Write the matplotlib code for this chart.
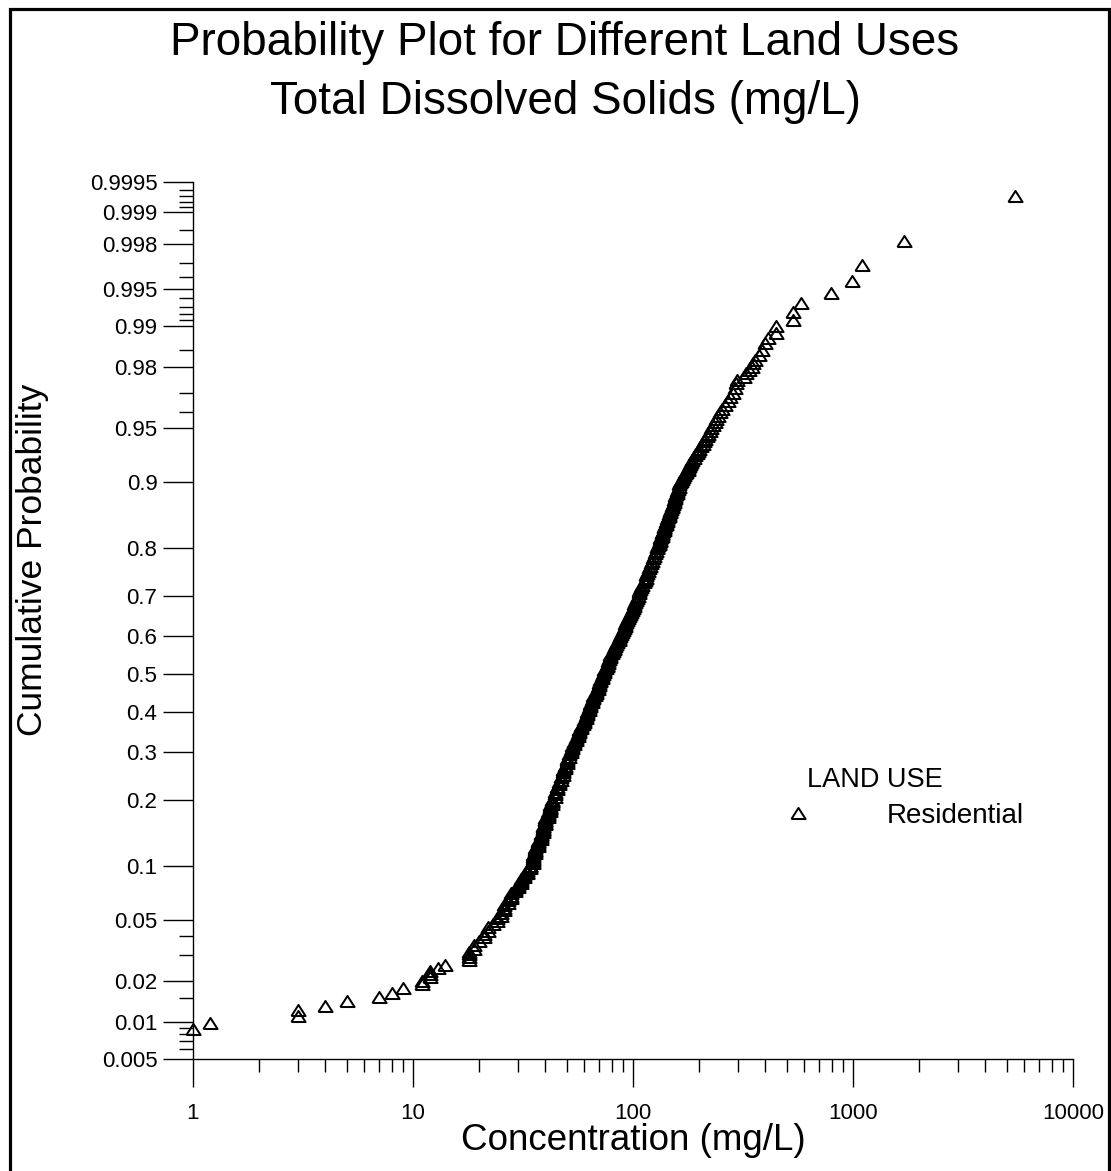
import math
import numpy as np
import matplotlib
matplotlib.use("Agg")
import matplotlib.pyplot as plt
from matplotlib.patches import Rectangle
from matplotlib.lines import Line2D
from matplotlib.ticker import FixedLocator, FixedFormatter, NullFormatter

plt.rcParams['font.family'] = ['Liberation Sans', 'DejaVu Sans']

# ---------------- data ----------------
# lower tail: individual points
conc_low = [1, 1.2, 3, 3, 4, 5, 7, 8, 9, 11, 11, 12, 12, 12, 13, 14, 18, 18, 18, 18]
prob_low = [0.0087, 0.0098, 0.0110, 0.0122, 0.0132, 0.0144, 0.0154, 0.0165, 0.0179,
            0.0189, 0.0200, 0.0212, 0.0224, 0.0235, 0.0247, 0.0259, 0.0279, 0.0291,
            0.0303, 0.0315]

# dense body of the curve
prob_a = [0.033, 0.035, 0.037, 0.039, 0.041, 0.043, 0.045, 0.047, 0.049, 0.051,
          0.053, 0.055, 0.057, 0.059, 0.061, 0.063, 0.065, 0.067, 0.069, 0.071,
          0.073, 0.075, 0.077, 0.079, 0.081, 0.083, 0.085, 0.087, 0.089, 0.091,
          0.093, 0.095, 0.097, 0.099]
conc_a = [19, 19, 20, 21, 21, 22, 22, 23, 24, 24,
          25, 25, 26, 26, 26, 27, 27, 28, 28, 28,
          29, 29, 30, 30, 31, 31, 31, 32, 32, 33,
          33, 33, 34, 34]

prob_b = [0.1000, 0.1025, 0.1050, 0.1075, 0.1100, 0.1125, 0.1150, 0.1175, 0.1200, 0.1225,
          0.1250, 0.1275, 0.1300, 0.1325, 0.1350, 0.1375, 0.1400, 0.1425, 0.1450, 0.1475,
          0.1500, 0.1525, 0.1550, 0.1575, 0.1600, 0.1625, 0.1650, 0.1675, 0.1700, 0.1725,
          0.1750, 0.1775, 0.1800, 0.1825, 0.1850, 0.1875, 0.1900, 0.1925, 0.1950, 0.1975]
conc_b = [34, 35, 35, 35, 35, 35, 36, 36, 36, 36,
          37, 37, 37, 37, 38, 38, 38, 38, 39, 39,
          39, 39, 39, 40, 40, 40, 40, 40, 41, 41,
          41, 41, 42, 42, 42, 42, 42, 43, 43, 43]

prob_c = [0.200, 0.205, 0.210, 0.215, 0.220, 0.225, 0.230, 0.235, 0.240, 0.245,
          0.250, 0.255, 0.260, 0.265, 0.270, 0.275, 0.280, 0.285, 0.290, 0.295,
          0.300, 0.305, 0.310, 0.315, 0.320, 0.325, 0.330, 0.335, 0.340, 0.345,
          0.350, 0.355, 0.360, 0.365, 0.370, 0.375, 0.380, 0.385, 0.390, 0.395,
          0.400, 0.405, 0.410, 0.415, 0.420, 0.425, 0.430, 0.435, 0.440, 0.445,
          0.450, 0.455, 0.460, 0.465, 0.470, 0.475, 0.480, 0.485, 0.490, 0.495,
          0.500, 0.505, 0.510, 0.515, 0.520, 0.525, 0.530, 0.535, 0.540, 0.545,
          0.550, 0.555, 0.560, 0.565, 0.570, 0.575, 0.580, 0.585, 0.590, 0.595,
          0.600, 0.605, 0.610, 0.615, 0.620, 0.625, 0.630, 0.635, 0.640, 0.645,
          0.650, 0.655, 0.660, 0.665, 0.670, 0.675, 0.680, 0.685, 0.690, 0.695,
          0.700, 0.705, 0.710, 0.715, 0.720, 0.725, 0.730, 0.735, 0.740, 0.745,
          0.750, 0.755, 0.760, 0.765, 0.770, 0.775, 0.780, 0.785, 0.790, 0.795]
conc_c = [43, 44, 44, 44, 45, 45, 46, 46, 47, 47,
          48, 48, 48, 49, 49, 50, 50, 50, 51, 51,
          52, 52, 53, 53, 54, 54, 55, 55, 56, 56,
          57, 57, 58, 58, 59, 60, 60, 61, 61, 62,
          62, 63, 63, 64, 64, 65, 65, 66, 66, 67,
          68, 68, 69, 69, 70, 70, 71, 71, 72, 72,
          73, 74, 74, 75, 76, 76, 77, 77, 78, 79,
          79, 80, 81, 82, 82, 83, 84, 85, 86, 86,
          87, 88, 89, 90, 91, 92, 92, 93, 94, 95,
          96, 97, 98, 99, 100, 101, 101, 102, 103, 104,
          105, 106, 107, 108, 109, 110, 112, 113, 114, 115,
          116, 117, 118, 120, 121, 122, 123, 125, 126, 127]

prob_d = [0.8000, 0.8025, 0.8050, 0.8075, 0.8100, 0.8125, 0.8150, 0.8175, 0.8200, 0.8225,
          0.8250, 0.8275, 0.8300, 0.8325, 0.8350, 0.8375, 0.8400, 0.8425, 0.8450, 0.8475,
          0.8500, 0.8525, 0.8550, 0.8575, 0.8600, 0.8625, 0.8650, 0.8675, 0.8700, 0.8725,
          0.8750, 0.8775, 0.8800, 0.8825, 0.8850, 0.8875, 0.8900, 0.8925, 0.8950, 0.8975]
conc_d = [128, 129, 130, 131, 131, 132, 133, 133, 134, 135,
          136, 136, 137, 138, 138, 139, 140, 141, 141, 142,
          143, 144, 145, 146, 147, 148, 149, 150, 151, 152,
          153, 154, 155, 156, 157, 158, 159, 160, 161, 162]

prob_e = [0.900, 0.902, 0.904, 0.906, 0.908, 0.910, 0.912, 0.914, 0.916, 0.918,
          0.920, 0.922, 0.924, 0.926, 0.928, 0.930, 0.932, 0.934, 0.936, 0.938,
          0.940, 0.942, 0.944, 0.946, 0.948, 0.950, 0.952, 0.954, 0.956, 0.958,
          0.960, 0.962, 0.964, 0.966, 0.968, 0.970, 0.972, 0.974]
conc_e = [163, 165, 167, 169, 171, 173, 175, 177, 178, 180,
          182, 184, 186, 189, 192, 195, 198, 200, 204, 207,
          210, 213, 216, 220, 223, 226, 230, 235, 239, 244,
          249, 255, 262, 270, 277, 285, 290, 294]

# upper tail: individual points
conc_high = [298, 320, 328, 336, 346, 352, 358, 372, 385, 398, 412, 447, 447, 535, 535,
             580, 792, 993, 1102, 1706, 5450]
prob_high = [0.9755, 0.9766, 0.9778, 0.9790, 0.9801, 0.9811, 0.9822, 0.9836, 0.9849,
             0.9865, 0.9876, 0.9888, 0.9900, 0.9911, 0.9923, 0.9934, 0.9946, 0.9957,
             0.9969, 0.9981, 0.9993]

series_label = "Residential"
legend_heading = "LAND USE"

x_major = [1, 10, 100, 1000, 10000]
x_major_labels = ["1", "10", "100", "1000", "10000"]
y_major = [0.005, 0.01, 0.02, 0.05, 0.1, 0.2, 0.3, 0.4, 0.5, 0.6, 0.7, 0.8, 0.9,
           0.95, 0.98, 0.99, 0.995, 0.998, 0.999, 0.9995]
y_major_labels = ["0.005", "0.01", "0.02", "0.05", "0.1", "0.2", "0.3", "0.4", "0.5",
                  "0.6", "0.7", "0.8", "0.9", "0.95", "0.98", "0.99", "0.995", "0.998",
                  "0.999", "0.9995"]
y_minor = [0.006, 0.007, 0.008, 0.009, 0.015, 0.03, 0.04, 0.96, 0.97, 0.985,
           0.991, 0.992, 0.993, 0.994, 0.996, 0.997, 0.9985, 0.9991, 0.9992, 0.9993, 0.9994]

# ---------------- normal probability scale ----------------
_a = [-3.969683028665376e+01, 2.209460984245205e+02, -2.759285104469687e+02,
      1.383577518672690e+02, -3.066479806614716e+01, 2.506628277459239e+00]
_b = [-5.447609879822406e+01, 1.615858368580409e+02, -1.556989798598866e+02,
      6.680131188771972e+01, -1.328068155288572e+01]
_c = [-7.784894002430293e-03, -3.223964580411365e-01, -2.400758277161838e+00,
      -2.549671010336782e+00, 4.374664141464968e+00, 2.938163982698783e+00]
_d = [7.784695709041462e-03, 3.224671290700398e-01, 2.445134137142996e+00,
      3.754408661907416e+00]


def _tail(q):
    num = ((((_c[0] * q + _c[1]) * q + _c[2]) * q + _c[3]) * q + _c[4]) * q + _c[5]
    den = (((_d[0] * q + _d[1]) * q + _d[2]) * q + _d[3]) * q + 1
    return num / den


def ppf(p):
    p = np.clip(np.asarray(p, dtype=float), 1e-12, 1 - 1e-12)
    out = np.empty_like(p)
    plow = 0.02425
    lo = p < plow
    hi = p > 1 - plow
    mid = ~(lo | hi)
    out[lo] = _tail(np.sqrt(-2 * np.log(p[lo])))
    out[hi] = -_tail(np.sqrt(-2 * np.log(1 - p[hi])))
    q = p[mid] - 0.5
    r = q * q
    num = (((((_a[0] * r + _a[1]) * r + _a[2]) * r + _a[3]) * r + _a[4]) * r + _a[5]) * q
    den = ((((_b[0] * r + _b[1]) * r + _b[2]) * r + _b[3]) * r + _b[4]) * r + 1
    out[mid] = num / den
    return out


_erfc = np.vectorize(math.erfc, otypes=[float])


def cdf(z):
    z = np.asarray(z, dtype=float)
    return 0.5 * _erfc(-z / math.sqrt(2.0))


# ---------------- figure ----------------
W, H = 1111, 1171
fig = plt.figure(figsize=(W / 100, H / 100), dpi=100)

ax_l, ax_r, ax_t, ax_b = 193, 1073, 182, 1059
ax = fig.add_axes([ax_l / W, 1 - ax_b / H, (ax_r - ax_l) / W, (ax_b - ax_t) / H])
ax.set_xscale('log')
ax.set_yscale('function', functions=(ppf, cdf))
ax.set_xlim(1, 10000)
ax.set_ylim(0.005, 0.9995)

tri = [(-1, -0.78), (1, -0.78), (0, 0.78), (-1, -0.78)]
conc_all = conc_low + conc_a + conc_b + conc_c + conc_d + conc_e + conc_high
prob_all = prob_low + prob_a + prob_b + prob_c + prob_d + prob_e + prob_high
ax.plot(conc_all, prob_all, linestyle='none', marker=tri, markersize=10.2,
        markerfacecolor='none', markeredgecolor='black', markeredgewidth=1.45,
        clip_on=False)

for s in ['top', 'right']:
    ax.spines[s].set_visible(False)
for s in ['left', 'bottom']:
    ax.spines[s].set_linewidth(1.0)

ax.yaxis.set_major_locator(FixedLocator(y_major))
ax.yaxis.set_major_formatter(FixedFormatter(y_major_labels))
ax.yaxis.set_minor_locator(FixedLocator(y_minor))
ax.yaxis.set_minor_formatter(NullFormatter())
ax.xaxis.set_major_locator(FixedLocator(x_major))
ax.xaxis.set_major_formatter(FixedFormatter(x_major_labels))
x_minor = [m * d for d in [1, 10, 100, 1000] for m in range(2, 10)]
ax.xaxis.set_minor_locator(FixedLocator(x_minor))
ax.xaxis.set_minor_formatter(NullFormatter())

ax.tick_params(axis='y', which='major', direction='out', length=21.6, width=1.0,
               labelsize=16, pad=4)
ax.tick_params(axis='y', which='minor', direction='out', length=10, width=1.0)
ax.tick_params(axis='x', which='major', direction='out', length=20, width=1.0,
               labelsize=16, pad=12)
ax.tick_params(axis='x', which='minor', direction='out', length=9.4, width=1.0)

ax.set_xlabel('Concentration (mg/L)', fontsize=26.5)
ax.xaxis.set_label_coords(0.5, -(1140 - ax_b) / (ax_b - ax_t))
ax.xaxis.label.set_verticalalignment('center')
ax.set_ylabel('Cumulative Probability', fontsize=25.5)
ax.yaxis.set_label_coords(-(ax_l - 33) / (ax_r - ax_l), (ax_b - 560) / (ax_b - ax_t))
ax.yaxis.label.set_verticalalignment('center')

# title
fig.text(565 / W, 1 - 55 / H, 'Probability Plot for Different Land Uses',
         fontsize=33, ha='center', va='baseline')
fig.text(565 / W, 1 - 114 / H, 'Total Dissolved Solids (mg/L)',
         fontsize=33, ha='center', va='baseline')

# legend
handle = Line2D([], [], linestyle='none', marker=tri, markersize=10.2,
                markerfacecolor='none', markeredgecolor='black', markeredgewidth=1.45)
fs_leg = 20
leg = fig.legend([handle], [series_label], loc='center left',
                 bbox_to_anchor=(784 / W, 1 - 816 / H), bbox_transform=fig.transFigure,
                 frameon=False, fontsize=fs_leg, handlelength=1.0, handletextpad=2.7,
                 borderpad=0, borderaxespad=0, numpoints=1)
fig.text(807 / W, 1 - 786.7 / H, legend_heading, fontsize=19.5, ha='left', va='baseline')

# outer frame
fig.add_artist(Rectangle((9.5 / W, -0.05), (1108.5 - 9.5) / W, (1 - 9 / H) + 0.05,
                         transform=fig.transFigure, fill=False, edgecolor='black',
                         linewidth=2.3, clip_on=False))

fig.savefig('out.png', dpi=100, facecolor='white')
